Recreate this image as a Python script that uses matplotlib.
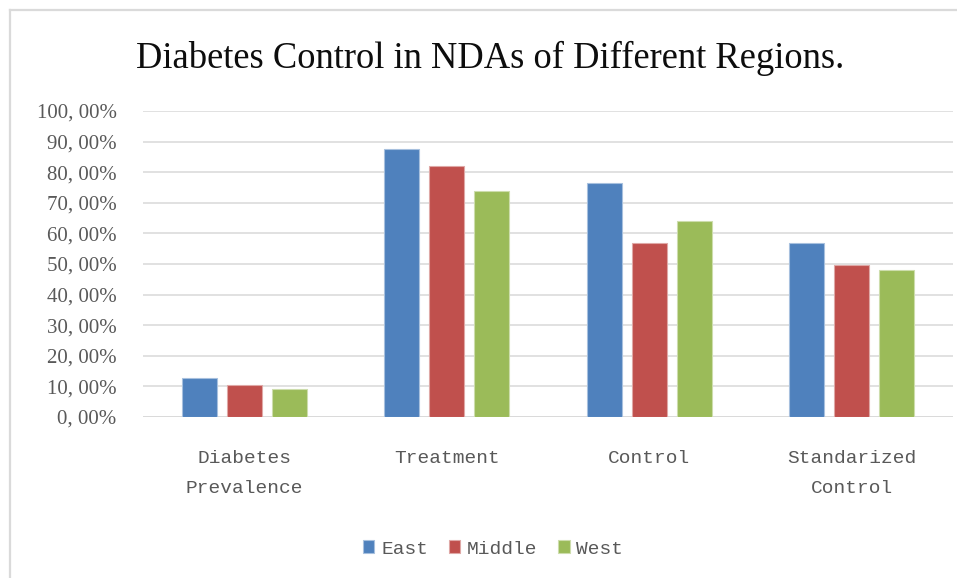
import matplotlib
matplotlib.use("Agg")
import matplotlib.pyplot as plt
import numpy as np
from matplotlib.lines import Line2D

# Data
categories = ["Diabetes\nPrevalence", "Treatment", "Control", "Standarized\nControl"]
regions = ["East", "Middle", "West"]
east = [12.9, 87.5, 76.6, 57.0]
middle = [10.6, 81.9, 56.7, 49.8]
west = [9.3, 73.8, 64.0, 47.9]
yticks = list(range(0, 101, 10))

colors = ["#4F81BD", "#C0504D", "#9BBB59"]
edges = ["#A7C0DE", "#DFA8A6", "#CDDDAC"]
text_color = "#595959"
grid_color = "#D9D9D9"

W, H = 957, 578
fig = plt.figure(figsize=(W / 100, H / 100), dpi=100)
fig.patch.set_facecolor("white")

# plot area in pixel coordinates
left, right, bottom, top = 143, 953, 417, 111
ax = fig.add_axes([left / W, 1 - bottom / H, (right - left) / W, (bottom - top) / H])

x = np.arange(len(categories))
width = 0.173
step = 0.222
for i, (vals, c, ec, name) in enumerate(zip([east, middle, west], colors, edges, regions)):
    ax.bar(x + (i - 1) * step, vals, width=width, color=c, edgecolor=ec,
           linewidth=0.8, label=name, zorder=3)

ax.set_xlim(-0.5, len(categories) - 0.5)
ax.set_ylim(0, 100)
ax.set_yticks(yticks)
ax.set_yticklabels([f"{v}, 00%" for v in yticks], family="Liberation Serif",
                   fontsize=15, color=text_color)
ax.set_xticks(x)
ax.set_xticklabels(categories, family="Liberation Mono", fontsize=14,
                   color=text_color, linespacing=1.95)
ax.tick_params(axis="y", length=0, pad=19)
ax.tick_params(axis="x", length=0, pad=24)

ax.grid(axis="y", color=grid_color, linewidth=1.1, zorder=0)
for s in ax.spines.values():
    s.set_visible(False)
ax.axhline(0, color=grid_color, linewidth=1.1, zorder=1)

# title
fig.text(490 / W, 1 - 58 / H, "Diabetes Control in NDAs of Different Regions.",
         family="Liberation Serif", fontsize=26.3, color="#0D0D0D",
         ha="center", va="center")

# legend
leg = fig.legend(loc="center", bbox_to_anchor=(493 / W, 1 - 549 / H),
                 ncol=3, frameon=False,
                 prop={"family": "Liberation Mono", "size": 14},
                 handlelength=0.6, handleheight=0.6, handletextpad=0.35,
                 columnspacing=1.05, borderaxespad=0)
for t in leg.get_texts():
    t.set_color(text_color)

# chart frame (left and top edges)
fig.add_artist(Line2D([9.5 / W, 9.5 / W], [0, 1 - 10 / H], transform=fig.transFigure,
                      color="#DADADA", linewidth=1.6))
fig.add_artist(Line2D([9.5 / W, 1], [1 - 10 / H, 1 - 10 / H], transform=fig.transFigure,
                      color="#DADADA", linewidth=1.6))

fig.savefig("out.png", dpi=100)
